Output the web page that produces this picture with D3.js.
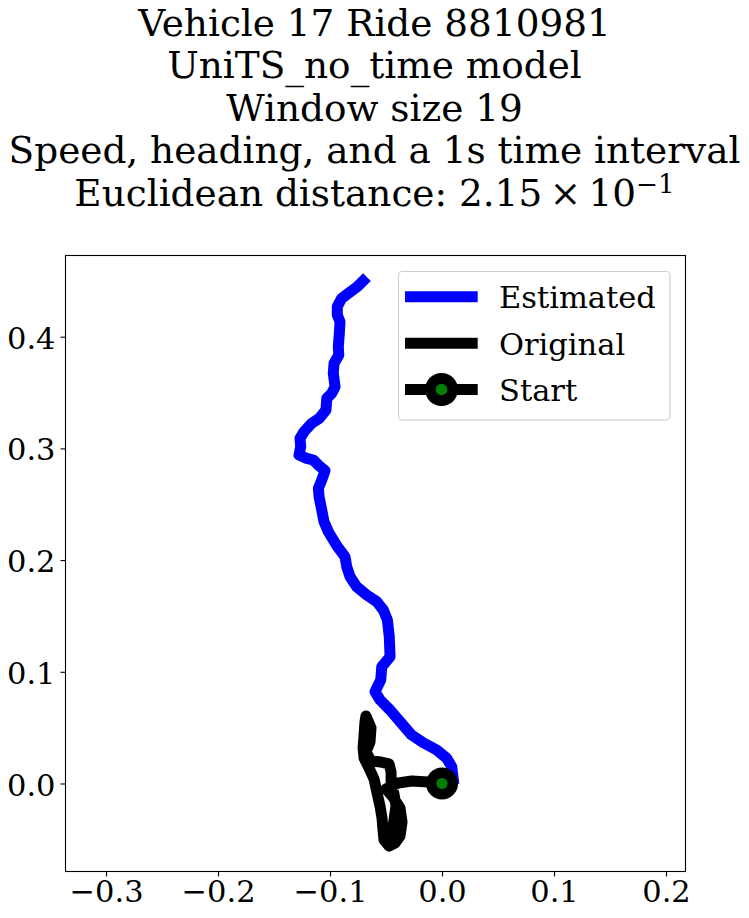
<!DOCTYPE html>
<html>
<head>
<meta charset="utf-8">
<script src="https://cdn.jsdelivr.net/npm/d3@7"></script>
<style>
  html, body { margin: 0; padding: 0; background: #ffffff; }
  svg { display: block; }
  text { font-family: "DejaVu Serif", serif; fill: #000; }
</style>
</head>
<body>
<svg id="chart" width="749" height="918"></svg>
<script>
// ---------- data ----------
const titleLines = [
  "Vehicle 17 Ride 8810981",
  "UniTS_no_time model",
  "Window size 19",
  "Speed, heading, and a 1s time interval"
];
const distanceLabel = "Euclidean distance: 2.15\u2009×\u200910";
const distanceExponent = "−1";

const estimatedX = [0.010, 0.0092, 0.0087, 0.0042, -0.0047, -0.0167, -0.0271, -0.0375, -0.0464, -0.0554,
  -0.0598, -0.0547, -0.0538, -0.0464, -0.0471, -0.0488, -0.0524, -0.0583, -0.0672, -0.0762,
  -0.0821, -0.0851, -0.0866, -0.0938, -0.1015, -0.1054, -0.1074, -0.1098, -0.1104, -0.1074,
  -0.1045, -0.1104, -0.1149, -0.1208, -0.1277, -0.1262, -0.1268, -0.1232, -0.1163, -0.1096,
  -0.1036, -0.1029, -0.0985, -0.0955, -0.0971, -0.0964, -0.0922, -0.0926, -0.0917, -0.0911,
  -0.0935, -0.0935, -0.0896, -0.0837, -0.0756, -0.0705];
const estimatedY = [0.004, 0.0106, 0.0150, 0.0226, 0.0300, 0.0365, 0.0434, 0.0553, 0.0658, 0.0748,
  0.0822, 0.0927, 0.1046, 0.1135, 0.1314, 0.1464, 0.1553, 0.1628, 0.1688, 0.1762,
  0.1851, 0.1941, 0.2030, 0.2126, 0.2254, 0.2344, 0.2449, 0.2568, 0.2643, 0.2717,
  0.2800, 0.2851, 0.2896, 0.2911, 0.2941, 0.3015, 0.3090, 0.3150, 0.3225, 0.3269,
  0.3344, 0.3448, 0.3493, 0.3552, 0.3672, 0.3762, 0.3836, 0.3910, 0.4030, 0.4134,
  0.4194, 0.4269, 0.4344, 0.4389, 0.4448, 0.4499];

const originalX = [0, -0.0125, -0.0268, -0.0393, -0.0500, -0.0438, -0.0375, -0.0357, -0.0375, -0.0420,
  -0.0473, -0.0518, -0.0527, -0.0536, -0.0554, -0.0580, -0.0607, -0.0652, -0.0696, -0.0705,
  -0.0696, -0.0688, -0.0679, -0.0634, -0.0643, -0.0679, -0.0634, -0.0545, -0.0473, -0.0455,
  -0.0455, -0.0429, -0.0411, -0.0429, -0.0446, -0.0464];
const originalY = [0, 0.0013, 0.0022, 0.0004, -0.0049, -0.0121, -0.0219, -0.0345, -0.0470, -0.0533,
  -0.0560, -0.0506, -0.0416, -0.0309, -0.0201, -0.0085, 0.0040, 0.0139, 0.0228, 0.0318,
  0.0434, 0.0551, 0.0604, 0.0497, 0.0372, 0.0282, 0.0201, 0.0192, 0.0175, 0.0103,
  0.0013, -0.0094, -0.0201, -0.0327, -0.0434, -0.0524];

const startPoint = [0, 0];

const xTicks = [-0.3, -0.2, -0.1, 0.0, 0.1, 0.2];
const yTicks = [0.0, 0.1, 0.2, 0.3, 0.4];
const xDomain = [-0.3362, 0.2174];
const yDomain = [-0.0788, 0.4727];

const legendLabels = ["Estimated", "Original", "Start"];
const legendColors = ["#0000ff", "#000000", "#000000"];

// ---------- layout ----------
const svg = d3.select("#chart");
svg.append("rect").attr("width", 749).attr("height", 918).attr("fill", "#fff");

const plot = { left: 65.5, right: 685.5, top: 255.5, bottom: 871.5 };
const x = d3.scaleLinear().domain(xDomain).range([plot.left, plot.right]);
const y = d3.scaleLinear().domain(yDomain).range([plot.bottom, plot.top]);

// title (one text block, one tspan per line)
const titleSize = 37.4;
const lineGap = 42.4;
const title = svg.append("text")
  .attr("x", 374.5).attr("y", 36)
  .attr("text-anchor", "middle")
  .attr("font-size", titleSize);
titleLines.forEach((t, i) => {
  title.append("tspan")
    .attr("x", 374.5).attr("y", 36 + lineGap * i)
    .text(t);
});
title.append("tspan")
  .attr("x", 374.5).attr("y", 36 + lineGap * 4)
  .text(distanceLabel)
  .append("tspan")
  .attr("font-size", titleSize * 0.7).attr("dy", -12.5).text(distanceExponent);

// clip
svg.append("clipPath").attr("id", "clip")
  .append("rect").attr("x", plot.left).attr("y", plot.top)
  .attr("width", plot.right - plot.left).attr("height", plot.bottom - plot.top);

const g = svg.append("g").attr("clip-path", "url(#clip)");

const line = d3.line().x(d => x(d[0])).y(d => y(d[1]));
const estPts = estimatedX.map((v, i) => [v, estimatedY[i]]);
const oriPts = originalX.map((v, i) => [v, originalY[i]]);

g.append("path").datum(estPts)
  .attr("d", line)
  .attr("fill", "none")
  .attr("stroke", legendColors[0])
  .attr("stroke-width", 11)
  .attr("stroke-linejoin", "round")
  .attr("stroke-linecap", "square");

g.append("path").datum(oriPts)
  .attr("d", line)
  .attr("fill", "none")
  .attr("stroke", legendColors[1])
  .attr("stroke-width", 11)
  .attr("stroke-linejoin", "round")
  .attr("stroke-linecap", "round");

g.append("circle").attr("cx", x(startPoint[0])).attr("cy", y(startPoint[1]))
  .attr("r", 16).attr("fill", "#000");
g.append("circle").attr("cx", x(startPoint[0])).attr("cy", y(startPoint[1]))
  .attr("r", 5.6).attr("fill", "#008000");

// frame
svg.append("rect")
  .attr("x", plot.left).attr("y", plot.top)
  .attr("width", plot.right - plot.left).attr("height", plot.bottom - plot.top)
  .attr("fill", "none").attr("stroke", "#000").attr("stroke-width", 1.1);

// axes
const fmt = d3.format(".1f");
const tickSize = 30.5;
const xAxis = svg.append("g").attr("transform", `translate(0,${plot.bottom})`)
  .call(d3.axisBottom(x).tickValues(xTicks).tickFormat(fmt).tickSize(5).tickPadding(4));
xAxis.select(".domain").remove();
xAxis.selectAll("line").attr("stroke", "#000").attr("stroke-width", 1.1);
xAxis.selectAll("text").attr("font-size", tickSize).attr("font-family", "DejaVu Serif").attr("fill", "#000");

const yAxis = svg.append("g").attr("transform", `translate(${plot.left},0)`)
  .call(d3.axisLeft(y).tickValues(yTicks).tickFormat(fmt).tickSize(5).tickPadding(5));
yAxis.select(".domain").remove();
yAxis.selectAll("line").attr("stroke", "#000").attr("stroke-width", 1.1);
yAxis.selectAll("text").attr("font-size", tickSize).attr("font-family", "DejaVu Serif").attr("fill", "#000").attr("dy", "0.38em");

// legend
const leg = svg.append("g");
leg.append("rect")
  .attr("x", 398.5).attr("y", 271.5).attr("width", 271.5).attr("height", 148.5)
  .attr("rx", 4).attr("fill", "#fff").attr("fill-opacity", 0.8)
  .attr("stroke", "#cccccc").attr("stroke-width", 1.1);
const rowY = [296.7, 343.3, 389.5];
legendLabels.forEach((lab, i) => {
  leg.append("line")
    .attr("x1", 405).attr("x2", 477.7)
    .attr("y1", rowY[i]).attr("y2", rowY[i])
    .attr("stroke", legendColors[i]).attr("stroke-width", 11);
  leg.append("text")
    .attr("x", 499).attr("y", rowY[i] + 11.3)
    .attr("font-size", 30.5)
    .text(lab);
});
leg.append("circle").attr("cx", 441.5).attr("cy", rowY[2]).attr("r", 16.5).attr("fill", "#000");
leg.append("circle").attr("cx", 441.5).attr("cy", rowY[2]).attr("r", 5.8).attr("fill", "#008000");
</script>
</body>
</html>
